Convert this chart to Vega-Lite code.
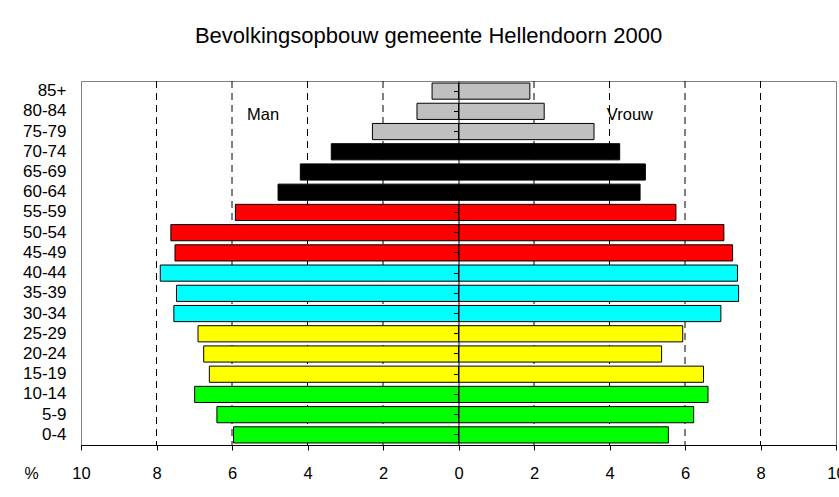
{
  "$schema": "https://vega.github.io/schema/vega-lite/v6.json",
  "width": 755,
  "height": 364,
  "autosize": {"type": "none"},
  "padding": {"left": 81, "top": 81, "right": 3, "bottom": 52},
  "background": "white",
  "config": {
    "font": "Liberation Sans",
    "view": {"stroke": "#808080", "strokeWidth": 1}
  },
  "title": {
    "text": "Bevolkingsopbouw gemeente Hellendoorn 2000",
    "font": "Liberation Sans",
    "fontSize": 22,
    "fontWeight": "normal",
    "color": "#000000",
    "anchor": "middle",
    "dx": -30,
    "offset": 33
  },
  "datasets": {
    "bevolking": [
      {"leeftijd": "85+", "groep": "g1", "geslacht": "Man", "pct": -0.70},
      {"leeftijd": "80-84", "groep": "g1", "geslacht": "Man", "pct": -1.10},
      {"leeftijd": "75-79", "groep": "g1", "geslacht": "Man", "pct": -2.28},
      {"leeftijd": "70-74", "groep": "g2", "geslacht": "Man", "pct": -3.37},
      {"leeftijd": "65-69", "groep": "g2", "geslacht": "Man", "pct": -4.19},
      {"leeftijd": "60-64", "groep": "g2", "geslacht": "Man", "pct": -4.78},
      {"leeftijd": "55-59", "groep": "g3", "geslacht": "Man", "pct": -5.91},
      {"leeftijd": "50-54", "groep": "g3", "geslacht": "Man", "pct": -7.62},
      {"leeftijd": "45-49", "groep": "g3", "geslacht": "Man", "pct": -7.51},
      {"leeftijd": "40-44", "groep": "g4", "geslacht": "Man", "pct": -7.90},
      {"leeftijd": "35-39", "groep": "g4", "geslacht": "Man", "pct": -7.47},
      {"leeftijd": "30-34", "groep": "g4", "geslacht": "Man", "pct": -7.54},
      {"leeftijd": "25-29", "groep": "g5", "geslacht": "Man", "pct": -6.90},
      {"leeftijd": "20-24", "groep": "g5", "geslacht": "Man", "pct": -6.75},
      {"leeftijd": "15-19", "groep": "g5", "geslacht": "Man", "pct": -6.60},
      {"leeftijd": "10-14", "groep": "g6", "geslacht": "Man", "pct": -6.99},
      {"leeftijd": "5-9", "groep": "g6", "geslacht": "Man", "pct": -6.40},
      {"leeftijd": "0-4", "groep": "g6", "geslacht": "Man", "pct": -5.96},
      {"leeftijd": "85+", "groep": "g1", "geslacht": "Vrouw", "pct": 1.89},
      {"leeftijd": "80-84", "groep": "g1", "geslacht": "Vrouw", "pct": 2.27},
      {"leeftijd": "75-79", "groep": "g1", "geslacht": "Vrouw", "pct": 3.59},
      {"leeftijd": "70-74", "groep": "g2", "geslacht": "Vrouw", "pct": 4.27},
      {"leeftijd": "65-69", "groep": "g2", "geslacht": "Vrouw", "pct": 4.95},
      {"leeftijd": "60-64", "groep": "g2", "geslacht": "Vrouw", "pct": 4.81},
      {"leeftijd": "55-59", "groep": "g3", "geslacht": "Vrouw", "pct": 5.76},
      {"leeftijd": "50-54", "groep": "g3", "geslacht": "Vrouw", "pct": 7.03},
      {"leeftijd": "45-49", "groep": "g3", "geslacht": "Vrouw", "pct": 7.26},
      {"leeftijd": "40-44", "groep": "g4", "geslacht": "Vrouw", "pct": 7.39},
      {"leeftijd": "35-39", "groep": "g4", "geslacht": "Vrouw", "pct": 7.42},
      {"leeftijd": "30-34", "groep": "g4", "geslacht": "Vrouw", "pct": 6.95},
      {"leeftijd": "25-29", "groep": "g5", "geslacht": "Vrouw", "pct": 5.94},
      {"leeftijd": "20-24", "groep": "g5", "geslacht": "Vrouw", "pct": 5.38},
      {"leeftijd": "15-19", "groep": "g5", "geslacht": "Vrouw", "pct": 6.49},
      {"leeftijd": "10-14", "groep": "g6", "geslacht": "Vrouw", "pct": 6.61},
      {"leeftijd": "5-9", "groep": "g6", "geslacht": "Vrouw", "pct": 6.23},
      {"leeftijd": "0-4", "groep": "g6", "geslacht": "Vrouw", "pct": 5.56}
    ],
    "raster": [
      {"x": -8}, {"x": -6}, {"x": -4}, {"x": -2},
      {"x": 2}, {"x": 4}, {"x": 6}, {"x": 8}
    ],
    "labels": [
      {"tekst": "Man", "x": -5.6, "leeftijd": "80-84"},
      {"tekst": "Vrouw", "x": 3.93, "leeftijd": "80-84"}
    ]
  },
  "layer": [
    {
      "data": {"name": "raster"},
      "mark": {"type": "rule", "color": "#000000", "strokeWidth": 1, "strokeDash": [7, 5]},
      "encoding": {
        "x": {
          "field": "x",
          "type": "quantitative",
          "scale": {"domain": [-10, 10], "nice": false, "zero": false},
          "axis": {
            "values": [-10, -8, -6, -4, -2, 0, 2, 4, 6, 8, 10],
            "labelExpr": "abs(datum.value)",
            "grid": false,
            "domainColor": "#000000",
            "domainWidth": 1,
            "tickColor": "#000000",
            "tickSize": 5,
            "labelFontSize": 16.5,
            "labelColor": "#000000",
            "labelPadding": 15,
            "labelFlush": false,
            "labelOverlap": false,
            "title": "%",
            "titleFontSize": 16,
            "titleFontWeight": "normal",
            "titleColor": "#000000",
            "titleX": -50,
            "titleY": 28,
            "titleAlign": "center",
            "titleBaseline": "middle",
            "titleAnchor": null
          }
        }
      }
    },
    {
      "data": {"name": "bevolking"},
      "mark": {"type": "bar", "stroke": "#000000", "strokeWidth": 1},
      "encoding": {
        "y": {
          "field": "leeftijd",
          "type": "nominal",
          "sort": ["85+", "80-84", "75-79", "70-74", "65-69", "60-64", "55-59", "50-54", "45-49", "40-44", "35-39", "30-34", "25-29", "20-24", "15-19", "10-14", "5-9", "0-4"],
          "scale": {"paddingInner": 0.2, "paddingOuter": 0.1},
          "axis": {
            "orient": "right",
            "offset": -770,
            "domain": false,
            "ticks": false,
            "tickSize": 0,
            "labelAlign": "right",
            "labelFontSize": 17,
            "labelColor": "#000000",
            "labelPadding": 0,
            "title": null
          }
        },
        "x": {"field": "pct", "type": "quantitative"},
        "color": {
          "field": "groep",
          "type": "nominal",
          "scale": {
            "domain": ["g1", "g2", "g3", "g4", "g5", "g6"],
            "range": ["#C0C0C0", "#000000", "#FF0000", "#00FFFF", "#FFFF00", "#00FF00"]
          },
          "legend": null
        }
      }
    },
    {
      "data": {"name": "labels"},
      "mark": {"type": "text", "align": "left", "baseline": "middle", "fontSize": 16.5, "dy": 4, "color": "#000000"},
      "encoding": {
        "x": {"field": "x", "type": "quantitative"},
        "y": {
          "field": "leeftijd",
          "type": "nominal",
          "sort": ["85+", "80-84", "75-79", "70-74", "65-69", "60-64", "55-59", "50-54", "45-49", "40-44", "35-39", "30-34", "25-29", "20-24", "15-19", "10-14", "5-9", "0-4"],
          "axis": {
            "orient": "left",
            "offset": -377.5,
            "labels": false,
            "domain": true,
            "domainColor": "#000000",
            "domainWidth": 1,
            "ticks": true,
            "tickColor": "#000000",
            "tickSize": 5,
            "title": null,
            "zindex": 2
          }
        },
        "text": {"field": "tekst"}
      }
    }
  ]
}
